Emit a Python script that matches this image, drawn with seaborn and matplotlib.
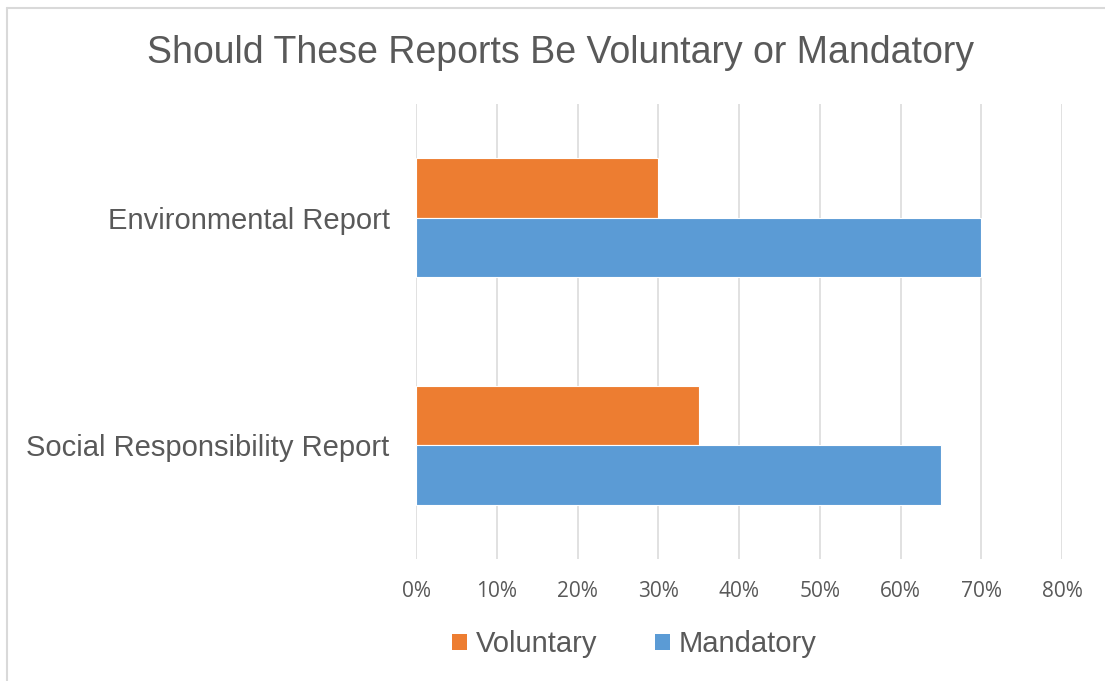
import matplotlib
matplotlib.use("Agg")
import matplotlib.pyplot as plt
import seaborn as sns
import pandas as pd
from matplotlib.lines import Line2D
from matplotlib.patches import Patch
from matplotlib.ticker import FuncFormatter, MultipleLocator

reports = ["Environmental Report", "Social Responsibility Report"]
voluntary = [30, 35]
mandatory = [70, 65]
series = ["Voluntary", "Mandatory"]
colors = ["#ED7D31", "#5B9BD5"]
title = "Should These Reports Be Voluntary or Mandatory"

df = pd.DataFrame({
    "report": reports * 2,
    "share": voluntary + mandatory,
    "answer": [series[0]] * len(reports) + [series[1]] * len(reports),
})

sns.set_theme(style="white")
plt.rcParams["font.family"] = ["Liberation Sans", "DejaVu Sans"]
text_color = "#595959"

fig = plt.figure(figsize=(11.05, 6.81), dpi=100)
ax = fig.add_axes([0.3765, 0.1791, 0.5846, 0.6682])

sns.barplot(data=df, y="report", x="share", hue="answer", hue_order=series,
            palette=colors, saturation=1, orient="h", width=0.523, dodge=True,
            edgecolor="white", linewidth=0.8, ax=ax, legend=False, zorder=3)

ax.set_xlim(0, 80)
ax.xaxis.set_major_locator(MultipleLocator(10))
ax.xaxis.set_major_formatter(FuncFormatter(lambda v, p: f"{v:.0f}%"))
ax.grid(axis="x", color="#D9D9D9", linewidth=1.1, zorder=0)
ax.grid(axis="y", visible=False)
for s in ax.spines.values():
    s.set_visible(False)
ax.set_xlabel("")
ax.set_ylabel("")
ax.tick_params(axis="x", length=0, pad=16, labelsize=15, labelcolor=text_color)
ax.tick_params(axis="y", length=0, pad=19, labelsize=21, labelcolor=text_color)
for lab in ax.get_xticklabels():
    lab.set_fontfamily(["Open Sans", "DejaVu Sans"])

fig.text(0.507, 0.922, title, ha="center", va="center", fontsize=27, color=text_color)

handles = [Patch(facecolor=c, edgecolor="none") for c in colors]
leg = fig.legend(handles, series, loc="center", bbox_to_anchor=(0.574, 0.054),
                 ncol=2, frameon=False, fontsize=21, handlelength=0.5,
                 handleheight=0.5, handletextpad=0.3, columnspacing=2.0)
for t in leg.get_texts():
    t.set_color(text_color)

# chart frame edges
fig.add_artist(Line2D([7 / 1105, 7 / 1105], [0, 1 - 8 / 681], transform=fig.transFigure,
                      color="#D9D9D9", linewidth=1.5))
fig.add_artist(Line2D([7 / 1105, 1], [1 - 8 / 681, 1 - 8 / 681], transform=fig.transFigure,
                      color="#D9D9D9", linewidth=1.5))

fig.savefig("out.png", dpi=100, facecolor="white")
